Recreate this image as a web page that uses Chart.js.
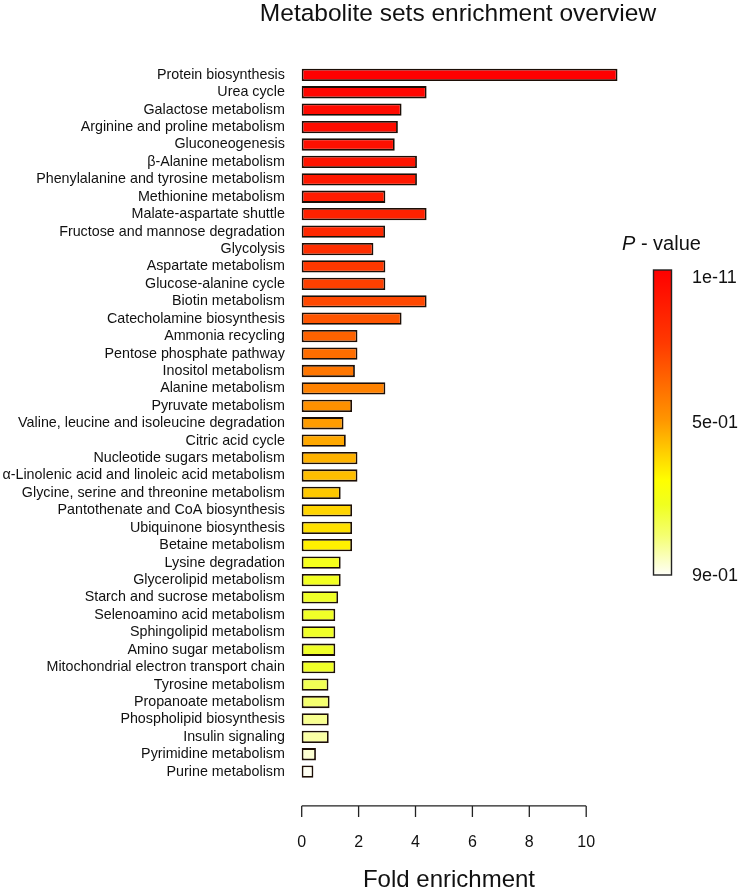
<!DOCTYPE html>
<html>
<head>
<meta charset="utf-8">
<script src="https://cdn.jsdelivr.net/npm/chart.js@4.4.1/dist/chart.umd.min.js"></script>
<style>
  html, body { margin: 0; padding: 0; background: #fff; }
  #chart { display: block; }
</style>
</head>
<body>
<canvas id="chart" width="739" height="889"></canvas>
<script>
// metabolite sets, top to bottom
const categories = [
  "Protein biosynthesis",
  "Urea cycle",
  "Galactose metabolism",
  "Arginine and proline metabolism",
  "Gluconeogenesis",
  "β-Alanine metabolism",
  "Phenylalanine and tyrosine metabolism",
  "Methionine metabolism",
  "Malate-aspartate shuttle",
  "Fructose and mannose degradation",
  "Glycolysis",
  "Aspartate metabolism",
  "Glucose-alanine cycle",
  "Biotin metabolism",
  "Catecholamine biosynthesis",
  "Ammonia recycling",
  "Pentose phosphate pathway",
  "Inositol metabolism",
  "Alanine metabolism",
  "Pyruvate metabolism",
  "Valine, leucine and isoleucine degradation",
  "Citric acid cycle",
  "Nucleotide sugars metabolism",
  "α-Linolenic acid and linoleic acid metabolism",
  "Glycine, serine and threonine metabolism",
  "Pantothenate and CoA biosynthesis",
  "Ubiquinone biosynthesis",
  "Betaine metabolism",
  "Lysine degradation",
  "Glycerolipid metabolism",
  "Starch and sucrose metabolism",
  "Selenoamino acid metabolism",
  "Sphingolipid metabolism",
  "Amino sugar metabolism",
  "Mitochondrial electron transport chain",
  "Tyrosine metabolism",
  "Propanoate metabolism",
  "Phospholipid biosynthesis",
  "Insulin signaling",
  "Pyrimidine metabolism",
  "Purine metabolism",
];

const foldEnrichment = [
  11.1, 4.39, 3.51, 3.38, 3.27, 4.05, 4.05, 2.94, 4.39, 2.93,
  2.52, 2.94, 2.94, 4.39, 3.51, 1.96, 1.96, 1.87, 2.94, 1.77,
  1.47, 1.55, 1.96, 1.96, 1.37, 1.77, 1.77, 1.77, 1.37, 1.37,
  1.28, 1.18, 1.18, 1.18, 1.18, 0.94, 0.98, 0.95, 0.95, 0.50,
  0.41,
];

// fill colour of each bar (p-value heat scale)
const barColors = [
  "#ff0000", "#ff0600", "#ff0a00", "#ff0d00", "#ff1000", "#ff1400", "#ff1800", "#ff1c00", "#ff2200", "#ff2800",
  "#ff2e00", "#ff3800", "#ff4000", "#ff4800", "#ff5500", "#ff6200", "#ff6d00", "#ff7600", "#ff8200", "#ff9000",
  "#ff9c00", "#ffa800", "#ffb200", "#ffbe00", "#ffc800", "#ffd400", "#ffe000", "#fff000", "#f6ff1c", "#f2ff22",
  "#f0ff28", "#f0ff28", "#f0ff28", "#f0ff28", "#f0ff28", "#f2ff55", "#f5ff70", "#f8ff90", "#faffa5", "#fdffd2",
  "#fffff2",
];

const xTickValues = [0, 2, 4, 6, 8, 10];
const pValueLabels = ["1e-11", "5e-01", "9e-01"];

const FONT = "'Liberation Sans', Arial, Helvetica, sans-serif";
const TEXT = "#111";

/**
 * Title, R-style x axis (detached line + tick marks) and the p-value colour bar
 */
const extrasPlugin = {
  id: "extras",
  afterDraw(chart) {
    const ctx = chart.ctx;
    const xs = chart.scales.x;
    const axisY = chart.chartArea.bottom + 25.5;

    ctx.save();
    // main title
    ctx.fillStyle = TEXT;
    ctx.font = `24.5px ${FONT}`;
    ctx.textAlign = "center";
    ctx.textBaseline = "alphabetic";
    ctx.fillText("Metabolite sets enrichment overview", 458, 20.5);

    ctx.strokeStyle = "#222";
    ctx.lineWidth = 1.3;
    ctx.beginPath();
    ctx.moveTo(xs.getPixelForValue(xTickValues[0]), axisY);
    ctx.lineTo(xs.getPixelForValue(xTickValues[xTickValues.length - 1]), axisY);
    xTickValues.forEach((v) => {
      const px = xs.getPixelForValue(v);
      ctx.moveTo(px, axisY);
      ctx.lineTo(px, axisY + 11);
    });
    ctx.stroke();

    // x axis title
    ctx.font = `24px ${FONT}`;
    ctx.fillText("Fold enrichment", 449, 887);

    // colour bar
    const cbX = 653.5, cbW = 18, cbTop = 270, cbBot = 575;
    const grad = ctx.createLinearGradient(0, cbTop, 0, cbBot);
    grad.addColorStop(0, "#ff0000");
    grad.addColorStop(0.24, "#ff3a00");
    grad.addColorStop(0.49, "#ff9500");
    grad.addColorStop(0.6, "#ffd000");
    grad.addColorStop(0.69, "#ffff00");
    grad.addColorStop(0.77, "#f0ff20");
    grad.addColorStop(0.87, "#f5ff70");
    grad.addColorStop(1, "#fffff8");
    ctx.fillStyle = grad;
    ctx.fillRect(cbX, cbTop, cbW, cbBot - cbTop);
    ctx.strokeStyle = "#222";
    ctx.lineWidth = 1.4;
    ctx.strokeRect(cbX, cbTop, cbW, cbBot - cbTop);

    ctx.fillStyle = TEXT;
    ctx.font = `18px ${FONT}`;
    ctx.textAlign = "left";
    ctx.textBaseline = "middle";
    const labelY = [278, 423, 576];
    pValueLabels.forEach((lab, i) => ctx.fillText(lab, 692, labelY[i]));

    // legend title with italic P
    ctx.font = `italic 20px ${FONT}`;
    ctx.fillText("P", 622, 244);
    const pw = ctx.measureText("P").width;
    ctx.font = `20px ${FONT}`;
    ctx.fillText(" - value", 622 + pw, 244);
    ctx.restore();
  },
};

const ctx = document.getElementById("chart").getContext("2d");
new Chart(ctx, {
  type: "bar",
  data: {
    labels: categories,
    datasets: [
      {
        data: foldEnrichment,
        backgroundColor: barColors,
        borderColor: "#1c0e06",
        borderWidth: 1.8,
        borderSkipped: false,
        barPercentage: 0.706,
        categoryPercentage: 1,
      },
    ],
  },
  options: {
    indexAxis: "y",
    responsive: false,
    animation: false,
    layout: { padding: { left: 0, right: 108.7, top: 66.1, bottom: 0 } },
    plugins: {
      legend: { display: false },
      tooltip: { enabled: false },
      title: { display: false },
    },
    scales: {
      x: {
        type: "linear",
        min: -0.45,
        max: 11.55,
        grid: { display: false, drawTicks: false },
        border: { display: false },
        ticks: {
          stepSize: 2,
          padding: 53,
          color: TEXT,
          font: { family: FONT, size: 16 },
          maxRotation: 0,
        },
        afterBuildTicks(scale) {
          scale.ticks = xTickValues.map((v) => ({ value: v }));
        },
        afterFit(scale) {
          scale.height = 108.6;
        },
      },
      y: {
        grid: { display: false, drawTicks: false },
        border: { display: false },
        ticks: {
          autoSkip: false,
          padding: 4,
          color: TEXT,
          font: { family: FONT, size: 14.3 },
        },
        afterFit(scale) {
          scale.width = 288.9;
        },
      },
    },
  },
  plugins: [extrasPlugin],
});
</script>
</body>
</html>
